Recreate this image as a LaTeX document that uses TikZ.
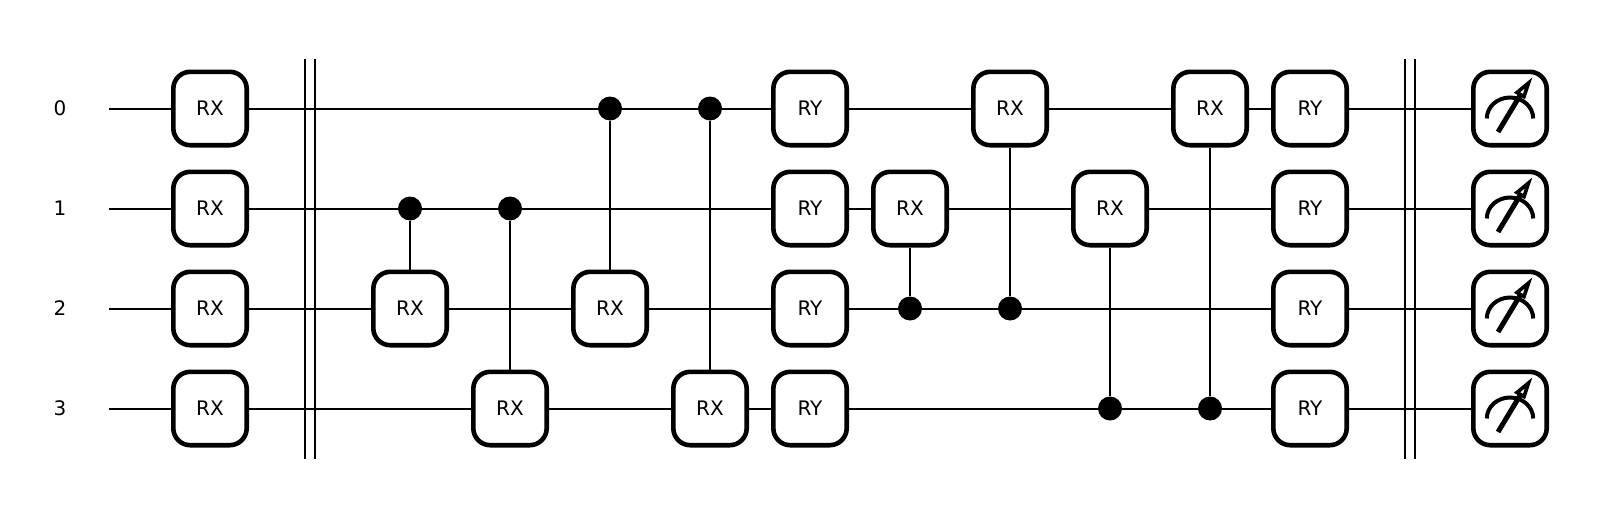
\documentclass[tikz,border=0pt]{standalone}
\usepackage{fontspec}
\setmainfont{DejaVu Sans}
\usetikzlibrary{positioning,backgrounds}
\tikzset{
  qlabel/.style={font=\fontsize{20bp}{24bp}\selectfont, inner sep=0pt},
  gatebox/.style={draw=black, fill=white, line width=4.6bp, rounded corners=17bp,
    minimum size=73.4bp, inner sep=0pt, font=\fontsize{20bp}{24bp}\selectfont},
  ctrldot/.style={circle, fill=black, minimum size=24bp, inner sep=0pt},
  wire/.style={draw=black, line width=2bp},
  barrier/.style={draw=black, line width=2bp},
  meterdial/.pic={
    \draw[line width=4bp] (-23.2bp,-10bp) arc[start angle=180, end angle=0, x radius=23.2bp, y radius=21bp];
    \draw[line width=5bp] (-12bp,-23.5bp) -- (10bp,13bp);
    \draw[line width=3.6bp, fill=white, line join=miter] (18.5bp,25.5bp) -- (7bp,16bp) -- (14bp,12bp) -- cycle;
  }
}
\begin{document}
\begin{tikzpicture}[on grid]
    \useasboundingbox (0bp,0bp) rectangle (1620bp,-519bp);

    % qubit labels
    \node[qlabel] (lbl0) at (60bp,-108.5bp) {0};
    \node[qlabel,below=100bp of lbl0] (lbl1) {1};
    \node[qlabel,below=100bp of lbl1] (lbl2) {2};
    \node[qlabel,below=100bp of lbl2] (lbl3) {3};
    \coordinate[right=49bp of lbl0] (start0);
    \coordinate[right=49bp of lbl1] (start1);
    \coordinate[right=49bp of lbl2] (start2);
    \coordinate[right=49bp of lbl3] (start3);

    % first column
    \node[gatebox,right=150bp of lbl0] (rxa0) {RX};
    \node[gatebox,right=150bp of lbl1] (rxa1) {RX};
    \node[gatebox,right=150bp of lbl2] (rxa2) {RX};
    \node[gatebox,right=150bp of lbl3] (rxa3) {RX};

    % first entangling block
    \node[gatebox,right=200bp of rxa2] (rxb2) {RX};
    \node[ctrldot,above=100bp of rxb2] (ctlb1) {};
    \node[gatebox,right=300bp of rxa3] (rxc3) {RX};
    \node[ctrldot,right=300bp of rxa1] (ctlc1) {};
    \node[gatebox,right=200bp of rxb2] (rxd2) {RX};
    \node[ctrldot,right=400bp of rxa0] (ctld0) {};
    \node[gatebox,right=200bp of rxc3] (rxe3) {RX};
    \node[ctrldot,right=100bp of ctld0] (ctle0) {};

    % RY column
    \node[gatebox,right=600bp of rxa0] (rya0) {RY};
    \node[gatebox,below=100bp of rya0] (rya1) {RY};
    \node[gatebox,below=100bp of rya1] (rya2) {RY};
    \node[gatebox,below=100bp of rya2] (rya3) {RY};

    % second entangling block
    \node[gatebox,right=100bp of rya1] (rxf1) {RX};
    \node[ctrldot,right=100bp of rya2] (ctlf2) {};
    \node[gatebox,right=200bp of rya0] (rxg0) {RX};
    \node[ctrldot,right=200bp of rya2] (ctlg2) {};
    \node[gatebox,right=300bp of rya1] (rxh1) {RX};
    \node[ctrldot,right=300bp of rya3] (ctlh3) {};
    \node[gatebox,right=400bp of rya0] (rxi0) {RX};
    \node[ctrldot,right=400bp of rya3] (ctli3) {};

    % last RY column
    \node[gatebox,right=500bp of rya0] (ryb0) {RY};
    \node[gatebox,right=500bp of rya1] (ryb1) {RY};
    \node[gatebox,right=500bp of rya2] (ryb2) {RY};
    \node[gatebox,right=500bp of rya3] (ryb3) {RY};

    % measurements
    \node[gatebox,right=200bp of ryb0] (meas0) {};
    \node[gatebox,right=200bp of ryb1] (meas1) {};
    \node[gatebox,right=200bp of ryb2] (meas2) {};
    \node[gatebox,right=200bp of ryb3] (meas3) {};
    \pic at (meas0) {meterdial};
    \pic at (meas1) {meterdial};
    \pic at (meas2) {meterdial};
    \pic at (meas3) {meterdial};

    % barriers
    \coordinate (bara) at (305bp,-58.5bp);
    \coordinate[below=400bp of bara] (barab);
    \coordinate[right=10bp of bara] (barc);
    \coordinate[below=400bp of barc] (barcb);
    \coordinate (bard) at (1405bp,-58.5bp);
    \coordinate[below=400bp of bard] (bardb);
    \coordinate[right=10bp of bard] (bare);
    \coordinate[below=400bp of bare] (bareb);
    \draw[barrier] (bara) -- (barab);
    \draw[barrier] (barc) -- (barcb);
    \draw[barrier] (bard) -- (bardb);
    \draw[barrier] (bare) -- (bareb);

    \begin{scope}[on background layer]
      \draw[wire] (start0) -- (meas0);
      \draw[wire] (start1) -- (meas1);
      \draw[wire] (start2) -- (meas2);
      \draw[wire] (start3) -- (meas3);
      \draw[wire] (ctlb1) -- (rxb2);
      \draw[wire] (ctlc1) -- (rxc3);
      \draw[wire] (ctld0) -- (rxd2);
      \draw[wire] (ctle0) -- (rxe3);
      \draw[wire] (ctlf2) -- (rxf1);
      \draw[wire] (ctlg2) -- (rxg0);
      \draw[wire] (ctlh3) -- (rxh1);
      \draw[wire] (ctli3) -- (rxi0);
    \end{scope}
  \end{tikzpicture}
\end{document}
